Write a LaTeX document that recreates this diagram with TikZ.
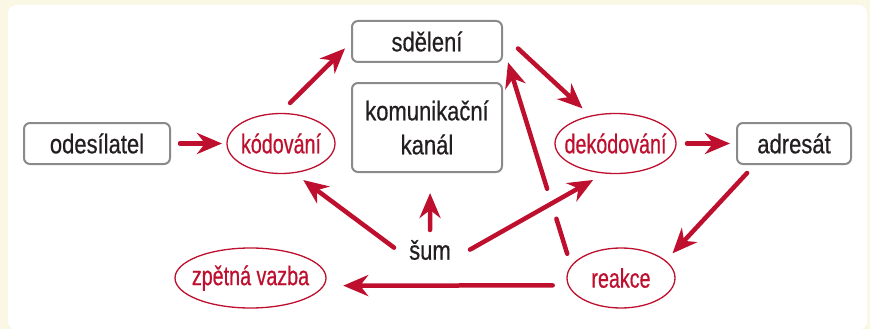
\documentclass[tikz,border=0pt]{standalone}
\usepackage{fontspec}
\setmainfont{Liberation Sans}
\newfontfamily\blkfont{Liberation Sans}[FakeStretch=0.815,FakeBold=0.5]
\newfontfamily\redfont{Liberation Sans}[FakeStretch=0.73,FakeBold=0.5]
\usetikzlibrary{shapes.geometric,arrows.meta}
\definecolor{cream}{RGB}{250,247,229}
\definecolor{myred}{RGB}{190,16,46}
\definecolor{boxgray}{RGB}{138,138,138}
\definecolor{txt}{RGB}{35,31,32}
\begin{document}
\begin{tikzpicture}[x=1pt,y=-1pt,
  box/.style={draw=boxgray, line width=2pt, rounded corners=6pt, fill=white,
    inner sep=0pt, outer sep=0pt, font=\blkfont\fontsize{27}{34}\selectfont,
    text=txt, align=center},
  oval/.style={ellipse, draw=myred, line width=1.3pt, inner sep=0pt, outer sep=0pt,
    minimum height=60pt, font=\redfont\fontsize{27}{30}\selectfont, text=myred},
  arr/.style={draw=myred, line width=4.5pt, line cap=round,
    -{Stealth[length=25pt,width=21pt,inset=8pt]}},
]
\useasboundingbox (0,0) rectangle (870,329);
\fill[cream] (0,0) rectangle (870,329);
\fill[white, rounded corners=8pt] (8,5) rectangle (867,329.5);

\node[box, minimum width=146pt, minimum height=41pt] (odes) at (97,143.5) {odesílatel};
\node[oval, minimum width=108pt] (kod) at (281,143.5) {\makebox[0pt]{kódování}};
\node[box, minimum width=150pt, minimum height=41pt] (sdel) at (427,41.5) {sdělení};
\node[box, minimum width=150pt, minimum height=89pt] (kanal) at (427,127.5) {\raisebox{3pt}{\parbox{140pt}{\centering komunikační\\kanál}}};
\node[oval, minimum width=121pt] (dekod) at (615.5,143.5) {\makebox[0pt]{dekódování}};
\node[box, minimum width=114pt, minimum height=41pt] (adr) at (794,143.5) {adresát};
\node[oval, minimum width=108pt] (reak) at (621,278) {\makebox[0pt]{reakce}};
\node[oval, minimum width=151pt] (zpet) at (250.5,278) {\makebox[0pt]{zpětná vazba}};
\node[font=\blkfont\fontsize{27}{30}\selectfont, text=txt, minimum width=44pt,
  minimum height=30pt, inner sep=0pt, outer sep=0pt] (sum) at (430,250) {šum};

\draw[arr, shorten <=10pt, shorten >=5pt] (odes.east) -- (kod.west);
\draw[arr, shorten <=15pt, shorten >=9.8pt] (kod.93.2) -- (sdel.west);
\draw[arr, shorten <=21.9pt, shorten >=11.3pt] (sdel.6.5) -- (dekod.132.5);
\draw[arr, shorten <=11pt, shorten >=7pt] (dekod.east) -- (adr.west);
\draw[arr, shorten <=12.3pt, shorten >=10.35pt] (adr.208) -- (reak.21.7);
\draw[arr, shorten <=16pt, shorten >=19.7pt] (reak.188.7) -- (zpet.-6.27);
\draw[arr, shorten <=13.35pt, shorten >=20.4pt,
  dash pattern=on 36.6pt off 31.4pt on 400pt] (reak.167.35) -- (sdel.-1.5);
\draw[arr, shorten <=17.4pt, shorten >=12.25pt] (sum.200.7) -- (kod.-67.4);
\draw[arr, shorten <=5pt, shorten >=21pt] (sum.north) -- (kanal.-86.14);
\draw[arr, shorten <=20.7pt, shorten >=14pt] (sum.-24.9) -- (dekod.-109.2);
\end{tikzpicture}
\end{document}
